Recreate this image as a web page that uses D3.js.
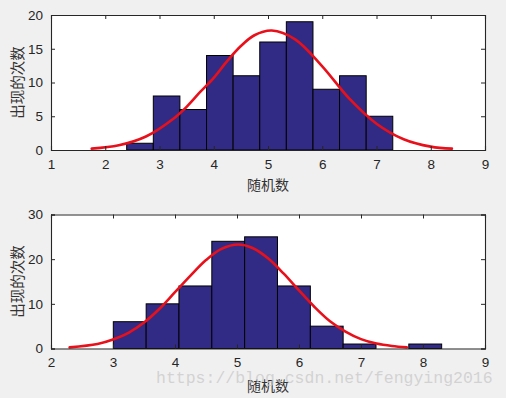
<!DOCTYPE html>
<html>
<head>
<meta charset="utf-8">
<script src="https://cdn.jsdelivr.net/npm/d3@7"></script>
<style>
  html, body { margin: 0; padding: 0; background: #f0f0f0; }
  svg { display: block; }
</style>
</head>
<body>
<div class="fig"></div>
<script>
'use strict';

// top histogram: bin edges and counts
var topEdges = [2.395, 2.886, 3.376, 3.867, 4.357, 4.848, 5.338, 5.829, 6.319, 6.810, 7.300];
var topCounts = [1, 8, 6, 14, 11, 16, 19, 9, 11, 5];
// fitted curve
var topCurveX = [1.75, 2.25, 2.75, 3.25, 3.5, 3.75, 4.0, 4.25, 4.5, 4.75, 5.07, 5.5, 6.0, 6.5, 7.0, 7.5, 8.0, 8.39];
var topCurveY = [0.2, 0.7, 2.0, 4.6, 6.4, 8.6, 10.7, 13.2, 15.4, 17.0, 17.7, 16.4, 12.4, 7.6, 3.9, 1.6, 0.5, 0.2];
var topXTicks = [1, 2, 3, 4, 5, 6, 7, 8, 9];
var topYTicks = [0, 5, 10, 15, 20];

// bottom histogram
var botEdges = [3.005, 3.535, 4.064, 4.594, 5.123, 5.653, 6.183, 6.712, 7.242, 7.771, 8.301];
var botCounts = [6, 10, 14, 24, 25, 14, 5, 1, 0, 1];
var botCurveX = [2.30, 2.75, 3.0, 3.25, 3.5, 3.75, 4.0, 4.25, 4.5, 4.75, 5.02, 5.25, 5.5, 5.75, 6.0, 6.25, 6.5, 6.75, 7.0, 7.25, 7.5, 7.74];
var botCurveY = [0.26, 1.0, 2.0, 3.5, 5.8, 8.9, 12.6, 16.3, 19.8, 22.3, 23.3, 22.5, 20.2, 16.8, 13.0, 9.3, 6.1, 3.8, 2.1, 1.1, 0.55, 0.26];
var botXTicks = [2, 3, 4, 5, 6, 7, 8, 9];
var botYTicks = [0, 10, 20, 30];

var xLabel = '随机数';
var yLabel = '出现的次数';
var watermark = 'https://blog.csdn.net/fengying2016';

var W = 506, H = 398;
var ink = '#262626';
var barColor = '#312b86';

var svg = d3.select('.fig').append('svg')
  .attr('width', W)
  .attr('height', H)
  .style('background', '#f0f0f0');

function panel(p) {
  var x = d3.scaleLinear().domain(p.xDomain).range([51, 485]);
  var y = d3.scaleLinear().domain(p.yDomain).range([p.y1, p.y0]);
  var g = svg.append('g');

  g.append('rect')
    .attr('x', 51).attr('y', p.y0)
    .attr('width', 434).attr('height', p.y1 - p.y0)
    .attr('fill', '#fff');

  var bins = p.counts.map(function(c, i) {
    return {x0: p.edges[i], x1: p.edges[i + 1], c: c};
  }).filter(function(d) { return d.c > 0; });

  g.selectAll('rect.bar').data(bins).enter().append('rect')
    .attr('class', 'bar')
    .attr('x', function(d) { return x(d.x0); })
    .attr('y', function(d) { return y(d.c); })
    .attr('width', function(d) { return x(d.x1) - x(d.x0); })
    .attr('height', function(d) { return y(0) - y(d.c); })
    .attr('fill', barColor)
    .attr('stroke', '#000')
    .attr('stroke-width', 1);

  var pts = p.curveX.map(function(v, i) { return [v, p.curveY[i]]; });
  var line = d3.line()
    .x(function(d) { return x(d[0]); })
    .y(function(d) { return y(d[1]); })
    .curve(d3.curveCatmullRom.alpha(0.5));
  g.append('path')
    .datum(pts)
    .attr('d', line)
    .attr('fill', 'none')
    .attr('stroke', '#e8101a')
    .attr('stroke-width', 2.6)
    .attr('stroke-linecap', 'round');

  // axes, MATLAB style: ticks inward, box on
  var fmt = d3.format('d');
  var axB = g.append('g').attr('transform', 'translate(0,' + p.y1 + ')')
    .call(d3.axisBottom(x).tickValues(p.xTicks).tickFormat(fmt).tickSize(-4).tickPadding(9));
  var axT = g.append('g').attr('transform', 'translate(0,' + p.y0 + ')')
    .call(d3.axisTop(x).tickValues(p.xTicks).tickFormat('').tickSize(-4));
  var axL = g.append('g').attr('transform', 'translate(51,0)')
    .call(d3.axisLeft(y).tickValues(p.yTicks).tickFormat(fmt).tickSize(-4).tickPadding(8));
  var axR = g.append('g').attr('transform', 'translate(485,0)')
    .call(d3.axisRight(y).tickValues(p.yTicks).tickFormat('').tickSize(-4));

  [axB, axT, axL, axR].forEach(function(a) {
    a.select('.domain').attr('stroke', ink).attr('stroke-width', 1.1);
    a.selectAll('.tick line').attr('stroke', ink);
    a.selectAll('.tick text')
      .attr('fill', ink)
      .style('font-family', '"Liberation Sans", Arial, sans-serif')
      .style('font-size', '13.5px');
  });

  g.append('text')
    .attr('x', 268).attr('y', p.xLabelY)
    .attr('text-anchor', 'middle')
    .attr('fill', '#333')
    .style('font-family', '"Noto Sans CJK SC", sans-serif')
    .style('font-size', '14px')
    .text(xLabel);

  g.append('text')
    .attr('transform', 'translate(23,' + ((p.y0 + p.y1) / 2) + ') rotate(-90)')
    .attr('text-anchor', 'middle')
    .attr('fill', '#333')
    .style('font-family', '"Noto Sans CJK SC", sans-serif')
    .style('font-size', '14.5px')
    .text(yLabel);
}

panel({
  xDomain: [1, 9], yDomain: [0, 20], y0: 15, y1: 150,
  edges: topEdges, counts: topCounts, curveX: topCurveX, curveY: topCurveY,
  xTicks: topXTicks, yTicks: topYTicks, xLabelY: 190
});

panel({
  xDomain: [2, 9], yDomain: [0, 30], y0: 214.5, y1: 348.5,
  edges: botEdges, counts: botCounts, curveX: botCurveX, curveY: botCurveY,
  xTicks: botXTicks, yTicks: botYTicks, xLabelY: 391
});

// blog watermark, lies over the lower axis labels as in the source image
svg.append('text')
  .attr('x', 156).attr('y', 383)
  .attr('fill', '#c8c8c8')
  .attr('fill-opacity', 0.75)
  .style('font-family', '"Liberation Mono", monospace')
  .style('font-size', '16.5px')
  .text(watermark);
</script>
</body>
</html>
